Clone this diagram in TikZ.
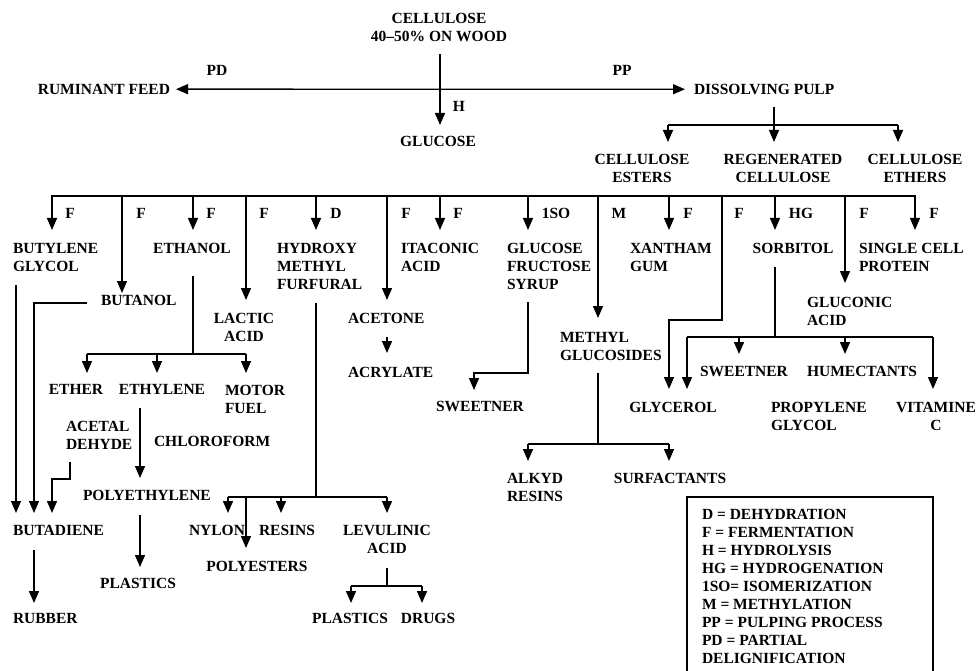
\documentclass[tikz,border=0pt]{standalone}
\usepackage{fontspec}
\setmainfont{Liberation Serif}
\usetikzlibrary{arrows.meta}
\begin{document}
\begin{tikzpicture}[x=1pt,y=-1pt,
  every node/.style={inner sep=0pt, outer sep=0pt,
    font=\fontsize{15.5}{18}\selectfont\bfseries},
  lbl/.style={anchor=north},
  lc/.style={anchor=north, align=center},
  lw/.style={anchor=north west, align=left},
  ln/.style={line width=1.4pt},
  arr/.style={line width=1.4pt, -{Triangle[width=10pt,length=12pt]}},
  arrb/.style={line width=1.4pt, {Triangle[width=10pt,length=12pt]}-{Triangle[width=10pt,length=12pt]}},
]
\useasboundingbox (0,0) rectangle (980,671);

% ---------- top level ----------
\node[lc] (cell) at (439,13) {CELLULOSE\\40\textendash50\% ON WOOD};
\node[anchor=north east] (rum) at (170,84) {RUMINANT FEED};
\node[anchor=north west] (dp) at (694,84) {DISSOLVING PULP};
\node[lbl] (pd) at (217,65) {PD};
\node[lbl] (pp) at (622,65) {PP};
\node[lbl] (h) at (459,101) {H};
\node[lbl] (glu) at (438,136) {GLUCOSE};

\draw[arrb] ([xshift=6pt]rum.east) -- ([xshift=-9pt]dp.west);
\coordinate (cellfoot) at (440,54);
\coordinate (glutip) at (440,125);
\draw[arr] (cellfoot) -- (glutip);

% ---------- dissolving pulp ----------
\node[lc] (ce)  at (642,154) {CELLULOSE\\ESTERS};
\node[lc] (rc)  at (783,154) {REGENERATED\\CELLULOSE};
\node[lc] (cet) at (915,154) {CELLULOSE\\ETHERS};

\draw[ln] (774,107) -- (774,125);
\draw[ln] (668,125) -- (898,125);
\draw[arr] (668,125) -- (668,142);
\draw[arr] (774,125) -- (774,142);
\draw[arr] (898,125) -- (898,142);

% ---------- glucose products ----------
\node[lw] (bg)   at (13,243)  {BUTYLENE\\GLYCOL};
\node[lbl] (eth) at (192,243) {ETHANOL};
\node[lw] (hmf)  at (277,243) {HYDROXY\\METHYL\\FURFURAL};
\node[lw] (ita)  at (401,243) {ITACONIC\\ACID};
\node[lw] (gfs)  at (507,243) {GLUCOSE\\FRUCTOSE\\SYRUP};
\node[lw] (xan)  at (630,243) {XANTHAM\\GUM};
\node[lbl] (sor) at (793,243) {SORBITOL};
\node[lw] (scp)  at (859,243) {SINGLE CELL\\PROTEIN};
\node[lw] (but)  at (101,295) {BUTANOL};
\node[lc] (lac)  at (244,313) {LACTIC\\ACID};
\node[lw] (ace)  at (348,313) {ACETONE};
\node[lw] (acr)  at (348,367) {ACRYLATE};
\node[lw] (mgl)  at (560,332) {METHYL\\GLUCOSIDES};
\node[lw] (gla)  at (807,297) {GLUCONIC\\ACID};

\draw[ln] (51,196) -- (916,196);
\foreach \x in {52,193,316,440,528,669,775,915}
  \draw[arr] (\x,196) -- (\x,230);
\draw[arr] (122,196) -- (122,293);
\draw[arr] (246,196) -- (246,300);
\draw[arr] (387,196) -- (387,300);
\draw[arr] (598,196) -- (598,318);
\draw[arr] (845,196) -- (845,283);
\draw[arr] (722,196) -- (722,320) -- (669,320) -- (669,389);

\foreach \x/\t in {70/F,141/F,211/F,264/F,336/D,406/F,458/F,556/1SO,619/M,688/F,739/F,801/HG,864/F,934/F}
  \node[lbl] at (\x,208) {\t};

% ---------- ethanol branch ----------
\node[lbl] (ether) at (76,384)  {ETHER};
\node[lbl] (ethy)  at (162,384) {ETHYLENE};
\node[lw] (mf)     at (225,385) {MOTOR\\FUEL};
\node[lw] (acd)    at (66,421)  {ACETAL\\DEHYDE};
\node[lw] (chl)    at (154,436) {CHLOROFORM};
\node[lw] (pe)     at (83,490)  {POLYETHYLENE};
\node[lbl] (pl1)   at (138,578) {PLASTICS};
\node[lw] (bd)     at (13,525)  {BUTADIENE};
\node[lw] (rub)    at (13,613)  {RUBBER};

\draw[ln] (193,276) -- (193,354);
\draw[ln] (87,354) -- (246,354);
\foreach \x in {87,157,246}
  \draw[arr] (\x,354) -- (\x,373);
\draw[arr] (140,408) -- (140,478);
\draw[arr] (140,515) -- (140,567);

\draw[arr] (16,285) -- (16,513);
\draw[arr] (87,303) -- (34,303) -- (34,513);
\draw[arr] (70,462) -- (70,479) -- (52,479) -- (52,513);
\draw[arr] (34,550) -- (34,603);

% ---------- hydroxymethylfurfural branch ----------
\node[lbl] (nyl) at (217,525) {NYLON};
\node[lbl] (res) at (287,525) {RESINS};
\node[lbl] (pes) at (257,561) {POLYESTERS};
\node[lc] (lev)  at (387,525) {LEVULINIC\\ACID};
\node[lbl] (pl2) at (350,613) {PLASTICS};
\node[lbl] (dru) at (428,613) {DRUGS};

\draw[ln] (316,303) -- (316,497);
\draw[ln] (228,497) -- (387,497);
\foreach \x in {228,281,387}
  \draw[arr] (\x,497) -- (\x,513);
\draw[arr] (246,497) -- (246,548);
\draw[ln] (387,568) -- (387,586);
\draw[ln] (351,586) -- (422,586);
\draw[arr] (351,586) -- (351,603);
\draw[arr] (422,586) -- (422,603);

% ---------- acetone, syrup, glucosides ----------
\draw[arr] (387,337) -- (387,353);
\node[lbl] (sw1) at (480,401) {SWEETNER};
\draw[arr] (528,302) -- (528,373) -- (474,373) -- (474,390);

\node[lw] (alk) at (507,473) {ALKYD\\RESINS};
\node[lbl] (sur) at (670,473) {SURFACTANTS};
\draw[ln] (598,373) -- (598,444);
\draw[ln] (528,444) -- (669,444);
\draw[arr] (528,444) -- (528,461);
\draw[arr] (669,444) -- (669,461);

% ---------- sorbitol branch ----------
\node[lbl] (sw2) at (744,366) {SWEETNER};
\node[lbl] (hum) at (862,366) {HUMECTANTS};
\node[lbl] (gly) at (673,402) {GLYCEROL};
\node[lw] (prg)  at (771,402) {PROPYLENE\\GLYCOL};
\node[lc] (vit)  at (936,402) {VITAMINE\\C};

\draw[ln] (775,267) -- (775,337);
\draw[ln] (687,337) -- (933,337);
\draw[arr] (687,337) -- (687,389);
\draw[arr] (739,337) -- (739,354);
\draw[arr] (845,337) -- (845,354);
\draw[arr] (933,337) -- (933,389);

% ---------- legend ----------
\draw[ln] (687,672) -- (687,497) -- (933,497) -- (933,672);
\node[lw] (key) at (702,509) {D = DEHYDRATION\\F = FERMENTATION\\H = HYDROLYSIS\\HG = HYDROGENATION\\1SO= ISOMERIZATION\\M = METHYLATION\\PP = PULPING PROCESS\\PD = PARTIAL\\DELIGNIFICATION};
\end{tikzpicture}
\end{document}
